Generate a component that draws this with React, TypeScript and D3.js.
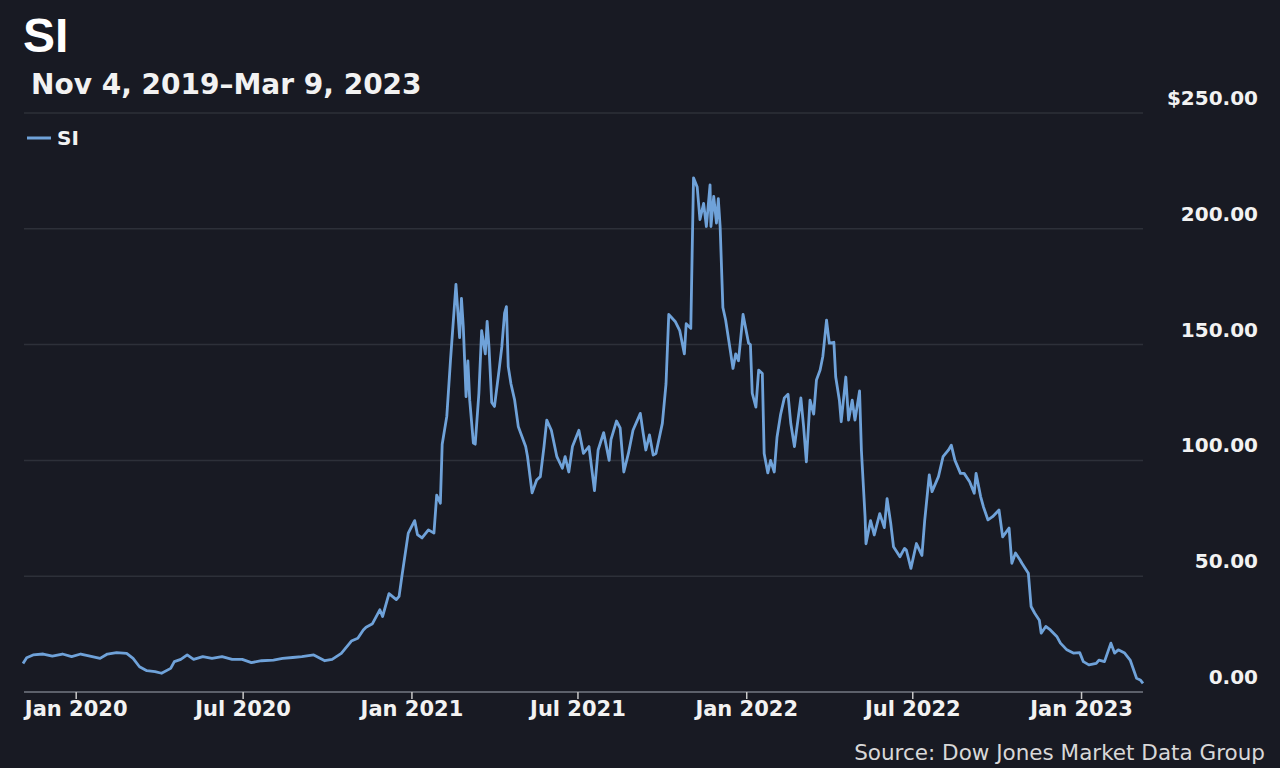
import React from 'react';
import * as d3 from 'd3';

// SI closing prices, one array per year
const si2019: [string, number][] = [
  ['2019-11-04', 12.3], ['2019-11-08', 14.8], ['2019-11-15', 16.0], ['2019-11-26', 16.4],
  ['2019-12-06', 15.5], ['2019-12-17', 16.4], ['2019-12-27', 15.3],
];

const si2020: [string, number][] = [
  ['2020-01-06', 16.4], ['2020-01-16', 15.5], ['2020-01-27', 14.5], ['2020-02-04', 16.4],
  ['2020-02-14', 17.0], ['2020-02-25', 16.7], ['2020-03-03', 14.5], ['2020-03-10', 10.9],
  ['2020-03-18', 9.2], ['2020-03-27', 8.8], ['2020-04-03', 8.1], ['2020-04-13', 10.2],
  ['2020-04-17', 13.1], ['2020-04-24', 14.1], ['2020-05-01', 16.0], ['2020-05-08', 14.1],
  ['2020-05-18', 15.3], ['2020-05-28', 14.5], ['2020-06-08', 15.3], ['2020-06-19', 14.1],
  ['2020-06-30', 14.1], ['2020-07-10', 12.7], ['2020-07-21', 13.5], ['2020-08-03', 13.8],
  ['2020-08-13', 14.5], ['2020-08-24', 14.9], ['2020-09-03', 15.3], ['2020-09-16', 16.0],
  ['2020-09-28', 13.5], ['2020-10-06', 14.1], ['2020-10-16', 16.7], ['2020-10-27', 22.0],
  ['2020-11-03', 23.2], ['2020-11-09', 26.8], ['2020-11-12', 28.0], ['2020-11-19', 29.5],
  ['2020-11-27', 35.5], ['2020-11-30', 32.6], ['2020-12-07', 42.5], ['2020-12-15', 39.9],
  ['2020-12-18', 41.3], ['2020-12-21', 49.8], ['2020-12-28', 68.6],
];

const si2021: [string, number][] = [
  ['2021-01-04', 74], ['2021-01-07', 68], ['2021-01-12', 66.5], ['2021-01-19', 70],
  ['2021-01-25', 68.6], ['2021-01-28', 85], ['2021-02-01', 81.5], ['2021-02-03', 107],
  ['2021-02-08', 119], ['2021-02-12', 143], ['2021-02-18', 176], ['2021-02-22', 153],
  ['2021-02-24', 170], ['2021-02-26', 157.7], ['2021-03-01', 127.5], ['2021-03-03', 143],
  ['2021-03-05', 126], ['2021-03-09', 107.5], ['2021-03-11', 107], ['2021-03-15', 129],
  ['2021-03-18', 156], ['2021-03-22', 146], ['2021-03-24', 160], ['2021-03-26', 149],
  ['2021-03-29', 125], ['2021-04-01', 123.3], ['2021-04-06', 139], ['2021-04-09', 149],
  ['2021-04-12', 163.6], ['2021-04-14', 166.4], ['2021-04-16', 140.5], ['2021-04-19', 133],
  ['2021-04-23', 126], ['2021-04-27', 114.5], ['2021-05-05', 106], ['2021-05-07', 101.7],
  ['2021-05-12', 86], ['2021-05-17', 91.5], ['2021-05-21', 93], ['2021-05-25', 106],
  ['2021-05-28', 117.4], ['2021-06-02', 113], ['2021-06-08', 101.6], ['2021-06-14', 96.6],
  ['2021-06-17', 101.6], ['2021-06-21', 95], ['2021-06-25', 106], ['2021-07-02', 113],
  ['2021-07-07', 103], ['2021-07-13', 106], ['2021-07-19', 87], ['2021-07-23', 104.5],
  ['2021-07-29', 112], ['2021-08-04', 100], ['2021-08-06', 109], ['2021-08-12', 117],
  ['2021-08-16', 114], ['2021-08-20', 95], ['2021-08-25', 103], ['2021-08-30', 113],
  ['2021-09-07', 120.3], ['2021-09-10', 112], ['2021-09-13', 104.5], ['2021-09-17', 111],
  ['2021-09-21', 102.3], ['2021-09-24', 103], ['2021-10-01', 116], ['2021-10-05', 133],
  ['2021-10-08', 163], ['2021-10-15', 160], ['2021-10-20', 156], ['2021-10-25', 146],
  ['2021-10-27', 159], ['2021-11-01', 157], ['2021-11-04', 222], ['2021-11-08', 218],
  ['2021-11-11', 204], ['2021-11-15', 211], ['2021-11-18', 201], ['2021-11-22', 219],
  ['2021-11-23', 201], ['2021-11-26', 214], ['2021-11-29', 202.5], ['2021-12-01', 213],
  ['2021-12-03', 201], ['2021-12-06', 166], ['2021-12-09', 160.6], ['2021-12-14', 147.7],
  ['2021-12-17', 139.7], ['2021-12-20', 146], ['2021-12-23', 143], ['2021-12-28', 163],
];

const si2022: [string, number][] = [
  ['2022-01-03', 150.6], ['2022-01-05', 150], ['2022-01-07', 129], ['2022-01-11', 123],
  ['2022-01-14', 139], ['2022-01-18', 137.5], ['2022-01-20', 103], ['2022-01-24', 94.6],
  ['2022-01-27', 100], ['2022-01-31', 95], ['2022-02-03', 110], ['2022-02-07', 120],
  ['2022-02-11', 127], ['2022-02-15', 128.6], ['2022-02-18', 116], ['2022-02-22', 106],
  ['2022-03-01', 127], ['2022-03-04', 114.6], ['2022-03-07', 99.4], ['2022-03-11', 126],
  ['2022-03-15', 120], ['2022-03-18', 134.7], ['2022-03-22', 139], ['2022-03-25', 145],
  ['2022-03-29', 160.6], ['2022-04-01', 150.6], ['2022-04-06', 151], ['2022-04-08', 136],
  ['2022-04-12', 126], ['2022-04-14', 116.7], ['2022-04-19', 136], ['2022-04-22', 117.4],
  ['2022-04-26', 126], ['2022-04-29', 117.4], ['2022-05-04', 130], ['2022-05-06', 104.4],
  ['2022-05-10', 75.7], ['2022-05-11', 64], ['2022-05-16', 74], ['2022-05-18', 71],
  ['2022-05-20', 67.8], ['2022-05-26', 77], ['2022-05-31', 71], ['2022-06-03', 83.5],
  ['2022-06-07', 72.8], ['2022-06-10', 62.7], ['2022-06-17', 58.4], ['2022-06-22', 62],
  ['2022-06-24', 61.3], ['2022-06-29', 53.4], ['2022-07-05', 64.1], ['2022-07-11', 59],
  ['2022-07-14', 74], ['2022-07-19', 93.7], ['2022-07-22', 86.5], ['2022-07-29', 93],
  ['2022-08-03', 101.6], ['2022-08-09', 104.5], ['2022-08-12', 106.6], ['2022-08-16', 100],
  ['2022-08-22', 94.4], ['2022-08-26', 94.4], ['2022-09-01', 90.8], ['2022-09-06', 85.8],
  ['2022-09-08', 94.4], ['2022-09-13', 84.4], ['2022-09-16', 80], ['2022-09-21', 74.3],
  ['2022-09-26', 75.7], ['2022-10-03', 78.6], ['2022-10-07', 67], ['2022-10-10', 68.6],
  ['2022-10-14', 70.8], ['2022-10-17', 55.6], ['2022-10-21', 60], ['2022-10-26', 57],
  ['2022-10-28', 55.6], ['2022-11-04', 51.3], ['2022-11-07', 36.9], ['2022-11-11', 34],
  ['2022-11-16', 31], ['2022-11-18', 25.4], ['2022-11-23', 28.3], ['2022-11-28', 26.8],
  ['2022-12-05', 24], ['2022-12-09', 21.1], ['2022-12-16', 18.2], ['2022-12-23', 16.8],
  ['2022-12-30', 17],
];

const si2023: [string, number][] = [
  ['2023-01-03', 13.1], ['2023-01-09', 11.7], ['2023-01-17', 12.4], ['2023-01-20', 13.8],
  ['2023-01-26', 13.1], ['2023-02-02', 21.1], ['2023-02-06', 16.8], ['2023-02-10', 18.2],
  ['2023-02-17', 16.8], ['2023-02-23', 13.8], ['2023-03-02', 5.9], ['2023-03-06', 5.2],
  ['2023-03-09', 3.7],
];

const xTickDates = ['2020-01-01', '2020-07-01', '2021-01-01', '2021-07-01', '2022-01-01', '2022-07-01', '2023-01-01'];
const yTickValues = [0, 50, 100, 150, 200, 250];

const parse = d3.timeParse('%Y-%m-%d');

const App: React.FC = () => {
  const width = 1280;
  const height = 768;

  const series = [...si2019, ...si2020, ...si2021, ...si2022, ...si2023].map(([d, v]) => ({ date: parse(d) as Date, value: v }));

  const x = d3.scaleTime()
    .domain([parse('2019-11-04') as Date, parse('2023-03-09') as Date])
    .range([23, 1143]);
  const y = d3.scaleLinear().domain([0, 250]).range([692, 113]);

  const line = d3.line<{ date: Date; value: number }>()
    .x(d => x(d.date))
    .y(d => y(d.value));

  const fmtX = d3.timeFormat('%b %Y');
  const fmtY = d3.format('.2f');

  return (
    <div style={{ position: 'absolute', left: 0, top: 0 }}>
      <svg width={width} height={height} style={{ display: 'block' }}>
        <rect width={width} height={height} fill="#181a23" />

        {/* gridlines */}
        {yTickValues.filter(v => v > 0).map(v => (
          <line key={v} x1={24} x2={1143} y1={y(v)} y2={y(v)} stroke="#2d3039" strokeWidth={1.5} />
        ))}
        <line x1={24} x2={1143} y1={y(0)} y2={y(0)} stroke="#5c606a" strokeWidth={2} />

        {/* price line */}
        <path d={line(series) || ''} fill="none" stroke="#6fa2d9" strokeWidth={2.8} strokeLinejoin="round" />

        {/* y labels */}
        {yTickValues.map(v => (
          <text key={v} x={1258} y={y(v) - 8} textAnchor="end" fill="#f2f2f2"
            fontFamily="DejaVu Sans" fontWeight="bold" fontSize={20}>
            {v === 250 ? `$${fmtY(v)}` : fmtY(v)}
          </text>
        ))}

        {/* x ticks and labels */}
        {xTickDates.map(d => {
          const dt = parse(d) as Date;
          const px = x(dt);
          return (
            <g key={d}>
              <line x1={px} x2={px} y1={692} y2={699} stroke="#c8c8c8" strokeWidth={1.5} />
              <text x={px} y={716} textAnchor="middle" fill="#f2f2f2"
                fontFamily="DejaVu Sans" fontWeight="bold" fontSize={21}>
                {fmtX(dt)}
              </text>
            </g>
          );
        })}

        {/* title */}
        <text x={23} y={52} fill="#ffffff" fontFamily="Liberation Sans" fontWeight="bold" fontSize={48}>SI</text>
        <text x={31} y={94} fill="#f2f2f2" fontFamily="DejaVu Sans" fontWeight="bold" fontSize={28}>
          Nov 4, 2019–Mar 9, 2023
        </text>

        {/* legend */}
        <line x1={27} x2={51} y1={138} y2={138} stroke="#6fa2d9" strokeWidth={3} />
        <text x={57} y={145} fill="#f2f2f2" fontFamily="DejaVu Sans" fontWeight="bold" fontSize={20}>SI</text>

        {/* source */}
        <text x={1265} y={760} textAnchor="end" fill="#d8d8d8" fontFamily="DejaVu Sans" fontSize={21.5}>
          Source: Dow Jones Market Data Group
        </text>
      </svg>
    </div>
  );
};

export default App;
